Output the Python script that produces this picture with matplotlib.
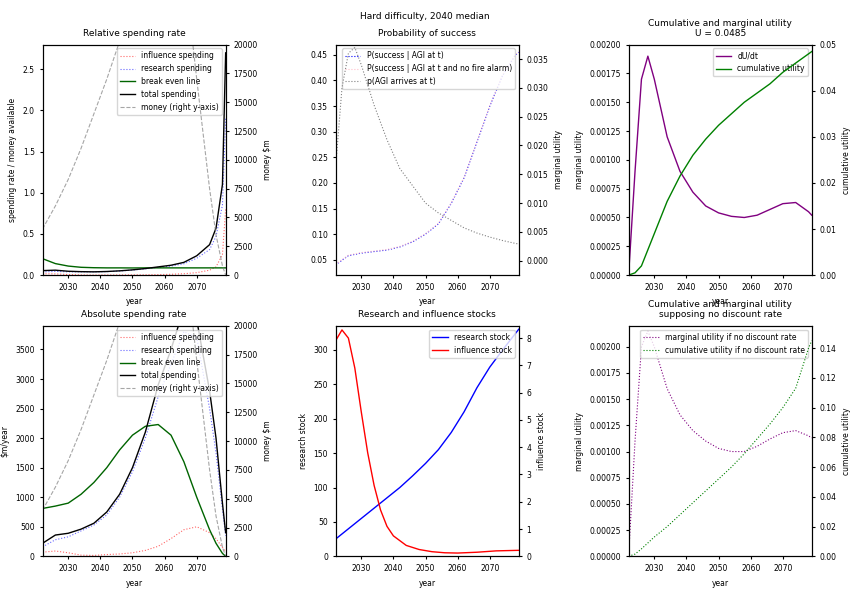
import matplotlib
matplotlib.use("Agg")
import matplotlib.pyplot as plt

plt.rcParams['font.size'] = 5.5

# ---------------- DATA ----------------
years = [2022, 2026, 2030, 2034, 2038, 2042, 2046, 2050, 2054, 2058, 2062, 2066, 2070, 2074, 2076, 2078, 2079]
money = [4000, 6000, 8300, 11000, 14000, 17000, 20300, 23500, 26500, 29000, 30000, 27000, 17000, 7500, 3500, 800, 0]

rel_influence = [0.017, 0.015, 0.007, 0.002, 0.001, 0.002, 0.002, 0.003, 0.004, 0.006, 0.01, 0.017, 0.03, 0.06, 0.1, 0.25, 0.8]
rel_research = [0.038, 0.045, 0.04, 0.04, 0.039, 0.042, 0.05, 0.061, 0.076, 0.094, 0.11, 0.138, 0.205, 0.31, 0.47, 0.85, 1.9]
rel_total = [0.055, 0.06, 0.047, 0.042, 0.04, 0.044, 0.052, 0.064, 0.08, 0.1, 0.12, 0.155, 0.235, 0.37, 0.57, 1.1, 2.7]
rel_breakeven = [0.2, 0.14, 0.11, 0.095, 0.09, 0.088, 0.088, 0.087, 0.088, 0.088, 0.088, 0.088, 0.088, 0.088, 0.088, 0.088, 0.088]

abs_influence = [70, 90, 60, 20, 15, 30, 40, 60, 100, 170, 300, 450, 500, 400, 300, 150, 80]
abs_research = [160, 280, 330, 430, 530, 700, 1000, 1430, 2000, 2700, 3250, 3800, 3700, 2500, 1750, 800, 350]
abs_total = [220, 360, 390, 460, 560, 750, 1050, 1500, 2100, 2900, 3500, 4200, 4000, 2800, 2000, 900, 400]
abs_breakeven = [810, 850, 900, 1050, 1250, 1500, 1800, 2050, 2200, 2230, 2050, 1600, 1000, 450, 220, 50, 0]

p_years = [2022, 2026, 2030, 2034, 2038, 2042, 2046, 2050, 2054, 2058, 2062, 2066, 2070, 2074, 2078, 2079]
p_success = [0.04, 0.058, 0.063, 0.066, 0.069, 0.075, 0.085, 0.1, 0.12, 0.16, 0.21, 0.28, 0.35, 0.41, 0.45, 0.455]
p_success_nofire = [0.041, 0.059, 0.064, 0.067, 0.07, 0.076, 0.086, 0.101, 0.121, 0.161, 0.211, 0.281, 0.351, 0.411, 0.451, 0.456]
agi_years = [2022, 2024, 2026, 2028, 2030, 2034, 2038, 2042, 2046, 2050, 2054, 2058, 2062, 2066, 2070, 2074, 2078, 2079]
p_agi = [0.016, 0.03, 0.036, 0.037, 0.034, 0.027, 0.021, 0.016, 0.013, 0.01, 0.0083, 0.007, 0.0057, 0.0048, 0.0041, 0.0035, 0.003, 0.0029]

u_years = [2022, 2024, 2026, 2028, 2030, 2034, 2038, 2042, 2046, 2050, 2054, 2058, 2062, 2066, 2070, 2074, 2078, 2079]
dudt = [0, 0.0009, 0.0017, 0.0019, 0.0017, 0.0012, 0.0009, 0.00072, 0.0006, 0.00054, 0.00051, 0.0005, 0.00052, 0.00057, 0.00062, 0.00063, 0.00055, 0.00052]
cum_u = [0, 0.0005, 0.002, 0.0055, 0.009, 0.016, 0.0215, 0.026, 0.0295, 0.0325, 0.035, 0.0375, 0.0395, 0.0415, 0.044, 0.046, 0.048, 0.0485]

s_years = [2022, 2026, 2030, 2034, 2038, 2042, 2046, 2050, 2054, 2058, 2062, 2066, 2070, 2074, 2079]
research_stock = [25, 40, 55, 70, 85, 100, 117, 135, 155, 180, 210, 245, 275, 300, 330]
i_years = [2022, 2024, 2026, 2028, 2030, 2032, 2034, 2036, 2038, 2040, 2044, 2048, 2052, 2056, 2060, 2066, 2072, 2079]
influence_stock = [7.9, 8.3, 8.0, 6.9, 5.3, 3.8, 2.6, 1.7, 1.1, 0.75, 0.4, 0.25, 0.17, 0.13, 0.12, 0.15, 0.2, 0.22]

nd_dudt = [0, 0.0011, 0.002, 0.00215, 0.002, 0.0016, 0.00135, 0.0012, 0.0011, 0.00103, 0.001, 0.001, 0.00105, 0.00112, 0.00118, 0.0012, 0.00115, 0.00113]
nd_cum = [0, 0.0015, 0.005, 0.009, 0.013, 0.02, 0.028, 0.036, 0.044, 0.052, 0.06, 0.069, 0.079, 0.089, 0.1, 0.113, 0.14, 0.145]

XLIM = (2022, 2079)

# ---------------- FIGURE ----------------
fig, axes = plt.subplots(2, 3, figsize=(8.5, 5.95), dpi=100)
fig.subplots_adjust(left=0.05, right=0.955, top=0.925, bottom=0.065, wspace=0.6, hspace=0.22)
fig.suptitle("Hard difficulty, 2040 median", fontsize=6.5)


def spending(ax, inf, res, tot, be, title, ylabel, ylim):
    ax.plot(years, inf, color="red", ls=":", lw=0.8, alpha=0.6, label="influence spending")
    ax.plot(years, res, color="blue", ls=":", lw=0.8, alpha=0.6, label="research spending")
    ax.plot(years, be, color="darkgreen", lw=1, label="break even line")
    ax.plot(years, tot, color="black", lw=1, label="total spending")
    ax.plot([], [], color="gray", ls="--", lw=0.8, alpha=0.7, label="money (right y-axis)")
    ax.set_xlim(*XLIM)
    ax.set_ylim(*ylim)
    ax.set_title(title, fontsize=6.5)
    ax.set_xlabel("year")
    ax.set_ylabel(ylabel)
    ax.legend(loc="upper right", fontsize=5.5)
    tw = ax.twinx()
    tw.plot(years, money, color="gray", ls="--", lw=0.8, alpha=0.7)
    tw.set_ylim(0, 20000)
    tw.set_ylabel("money $m")


spending(axes[0, 0], rel_influence, rel_research, rel_total, rel_breakeven,
         "Relative spending rate", "spending rate / money available", (0, 2.8))
spending(axes[1, 0], abs_influence, abs_research, abs_total, abs_breakeven,
         "Absolute spending rate", "spending rate\n$m/year", (0, 3900))

# probability of success
ax = axes[0, 1]
ax.plot(p_years, p_success, color="blue", ls=":", lw=0.8, label="P(success | AGI at t)")
ax.plot(p_years, p_success_nofire, color="pink", ls=":", lw=0.8, label="P(success | AGI at t and no fire alarm)")
ax.plot([], [], color="gray", ls=":", lw=0.8, label="p(AGI arrives at t)")
ax.set_xlim(*XLIM)
ax.set_ylim(0.02, 0.47)
ax.set_title("Probability of success", fontsize=6.5)
ax.set_xlabel("year")
ax.legend(loc="upper right", fontsize=5.5)
tw = ax.twinx()
tw.plot(agi_years, p_agi, color="gray", ls=":", lw=0.8)
tw.set_ylim(-0.0025, 0.0375)
tw.set_ylabel("marginal utility")

# utility
ax = axes[0, 2]
ax.plot(u_years, dudt, color="purple", lw=1, label="dU/dt")
ax.plot([], [], color="green", lw=1, label="cumulative utility")
ax.set_xlim(*XLIM)
ax.set_ylim(0, 0.002)
ax.set_title("Cumulative and marginal utility\nU = 0.0485", fontsize=6.5)
ax.set_xlabel("year")
ax.set_ylabel("marginal utility")
ax.legend(loc="upper right", fontsize=5.5)
tw = ax.twinx()
tw.plot(u_years, cum_u, color="green", lw=1)
tw.set_ylim(0, 0.05)
tw.set_ylabel("cumulative utility")

# stocks
ax = axes[1, 1]
ax.plot(s_years, research_stock, color="blue", lw=1, label="research stock")
ax.plot([], [], color="red", lw=1, label="influence stock")
ax.set_xlim(*XLIM)
ax.set_ylim(0, 335)
ax.set_title("Research and influence stocks", fontsize=6.5)
ax.set_xlabel("year")
ax.set_ylabel("research stock")
ax.legend(loc="upper right", fontsize=5.5)
tw = ax.twinx()
tw.plot(i_years, influence_stock, color="red", lw=1)
tw.set_ylim(0, 8.45)
tw.set_ylabel("influence stock")

# no discount
ax = axes[1, 2]
ax.plot(u_years, nd_dudt, color="purple", ls=":", lw=0.8, label="marginal utility if no discount rate")
ax.plot([], [], color="green", ls=":", lw=0.8, label="cumulative utility if no discount rate")
ax.set_xlim(*XLIM)
ax.set_ylim(0, 0.0022)
ax.set_title("Cumulative and marginal utility\nsupposing no discount rate", fontsize=6.5)
ax.set_xlabel("year")
ax.set_ylabel("marginal utility")
ax.legend(loc="upper right", fontsize=5.5)
tw = ax.twinx()
tw.plot(u_years, nd_cum, color="green", ls=":", lw=0.8)
tw.set_ylim(0, 0.155)
tw.set_ylabel("cumulative utility")

for a in fig.axes:
    a.tick_params(labelsize=5.5, length=2)
    a.set_xticks([2030, 2040, 2050, 2060, 2070])

plt.savefig("out.png", dpi=100)
